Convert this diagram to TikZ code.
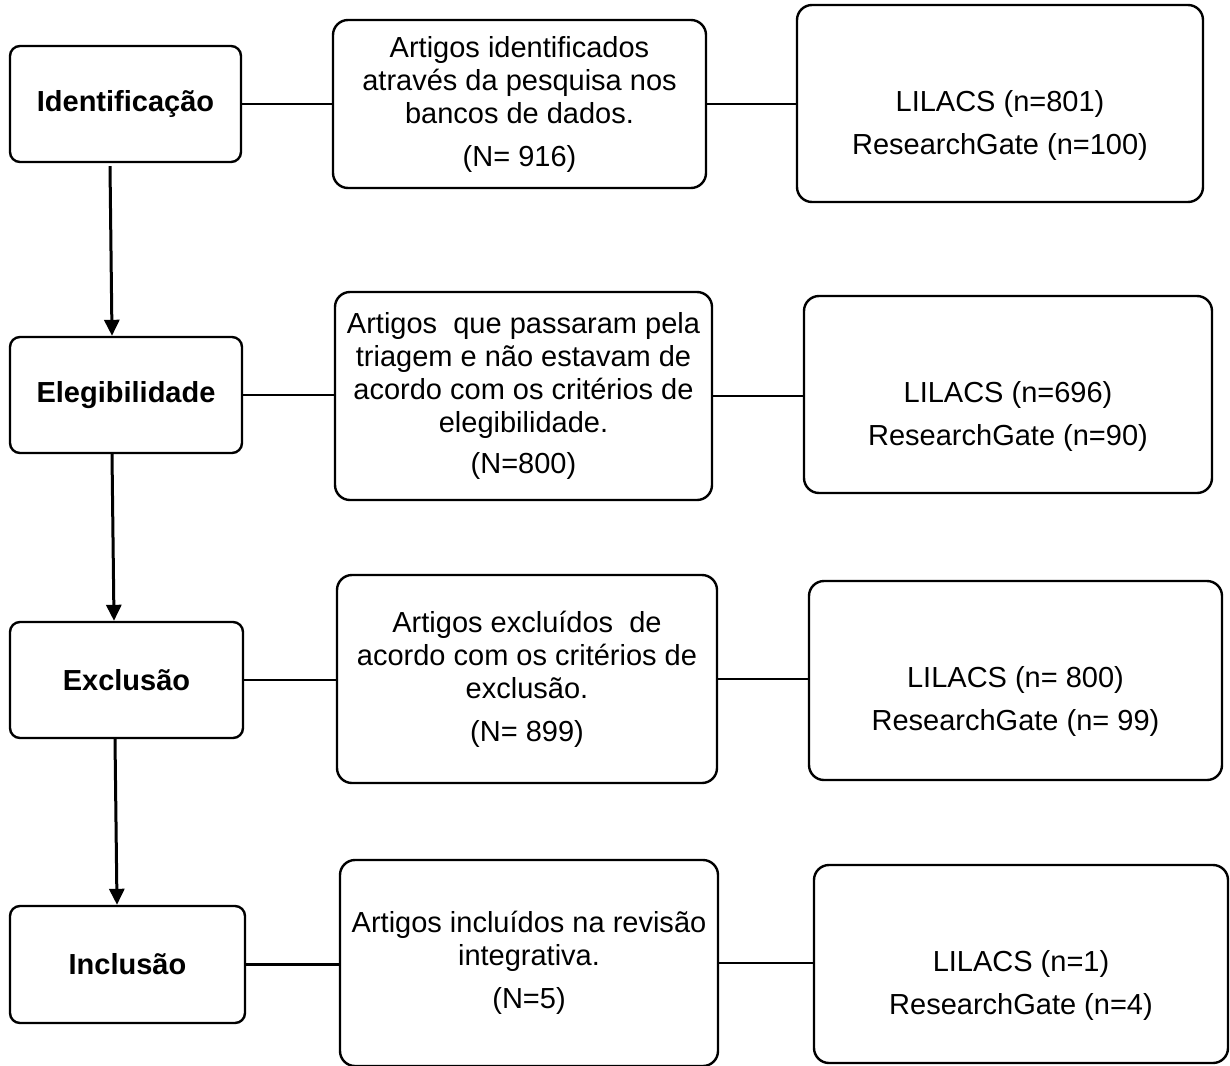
\documentclass[tikz,border=0pt]{standalone}
\usepackage{fontspec}
\setmainfont{Liberation Sans}
\usetikzlibrary{arrows.meta}
\tikzset{
  boxbase/.style={draw, line width=2.4pt, inner sep=0pt, align=center,
    font=\fontsize{29}{33}\selectfont},
  labbox/.style={boxbase, rounded corners=10pt, font=\fontsize{29}{33}\selectfont\bfseries},
  midbox/.style={boxbase, rounded corners=15pt},
  rbox/.style={draw, line width=2.4pt, rounded corners=15pt, inner sep=0pt},
  rtxt/.style={align=center, inner sep=0pt, font=\fontsize{29}{43}\selectfont},
  conn/.style={line width=2.4pt},
  arr/.style={line width=3pt, -{Triangle[width=15pt,length=16pt]}},
}
\begin{document}
\begin{tikzpicture}[x=1pt,y=-1pt]
\fill[white] (0,0) rectangle (1230,1065);
\useasboundingbox (0,0) rectangle (1230,1065);

% left column
\node[labbox, minimum width=231pt, minimum height=116pt] (L1) at (125.5,104) {Identificação};
\node[labbox, minimum width=232pt, minimum height=116pt] (L2) at (126,395) {Elegibilidade};
\node[labbox, minimum width=233pt, minimum height=116pt] (L3) at (126.5,680) {Exclusão};
\node[labbox, minimum width=235pt, minimum height=117pt] (L4) at (127.5,964.5) {Inclusão};

% middle column
\node[midbox, minimum width=373pt, minimum height=168pt] (M1) at (519.5,104)
  {Artigos identificados\\através da pesquisa nos\\bancos de dados.\\[10pt](N= 916)};
\node[midbox, minimum width=377pt, minimum height=208pt] (M2) at (523.5,396)
  {Artigos\ \ que passaram pela\\triagem e não estavam de\\acordo com os critérios de\\elegibilidade.\\[8pt](N=800)};
\node[midbox, minimum width=380pt, minimum height=208pt] (M3) at (527,679)
  {Artigos excluídos\ \ de\\acordo com os critérios de\\exclusão.\\[10pt](N= 899)};
\node[midbox, minimum width=378pt, minimum height=206pt] (M4) at (529,963)
  {Artigos incluídos na revisão\\integrativa.\\[10pt](N=5)};

% right column
\node[rbox, minimum width=406pt, minimum height=197pt] (R1) at (1000,103.5) {};
\node[rbox, minimum width=408pt, minimum height=197pt] (R2) at (1008,394.5) {};
\node[rbox, minimum width=413pt, minimum height=199pt] (R3) at (1015.5,680.5) {};
\node[rbox, minimum width=414pt, minimum height=198pt] (R4) at (1021,964) {};
\node[rtxt] (T1) at ([yshift=-21.5pt]R1.center) {LILACS (n=801)\\ResearchGate (n=100)};
\node[rtxt] (T2) at ([yshift=-21.5pt]R2.center) {LILACS (n=696)\\ResearchGate (n=90)};
\node[rtxt] (T3) at ([yshift=-20.5pt]R3.center) {LILACS (n= 800)\\ResearchGate (n= 99)};
\node[rtxt] (T4) at ([yshift=-21.5pt]R4.center) {LILACS (n=1)\\ResearchGate (n=4)};

% horizontal connectors
\draw[conn] (L1.east) -- (L1.east -| M1.west);
\draw[conn] (M1.east) -- (M1.east -| R1.west);
\draw[conn] (L2.east) -- (L2.east -| M2.west);
\draw[conn] (M2.east) -- (M2.east -| R2.west);
\draw[conn] (L3.east) -- (L3.east -| M3.west);
\draw[conn] (M3.east) -- (M3.east -| R3.west);
\draw[conn] (L4.east) -- (L4.east -| M4.west);
\draw[conn] (M4.east) -- (M4.east -| R4.west);

% vertical arrows
\draw[arr] ([xshift=-15.5pt,yshift=-3pt]L1.south) -- ([xshift=-14pt]L2.north);
\draw[arr] ([xshift=-14pt]L2.south) -- ([xshift=-12.5pt]L3.north);
\draw[arr] ([xshift=-11.5pt]L3.south) -- ([xshift=-10.5pt]L4.north);
\end{tikzpicture}
\end{document}
